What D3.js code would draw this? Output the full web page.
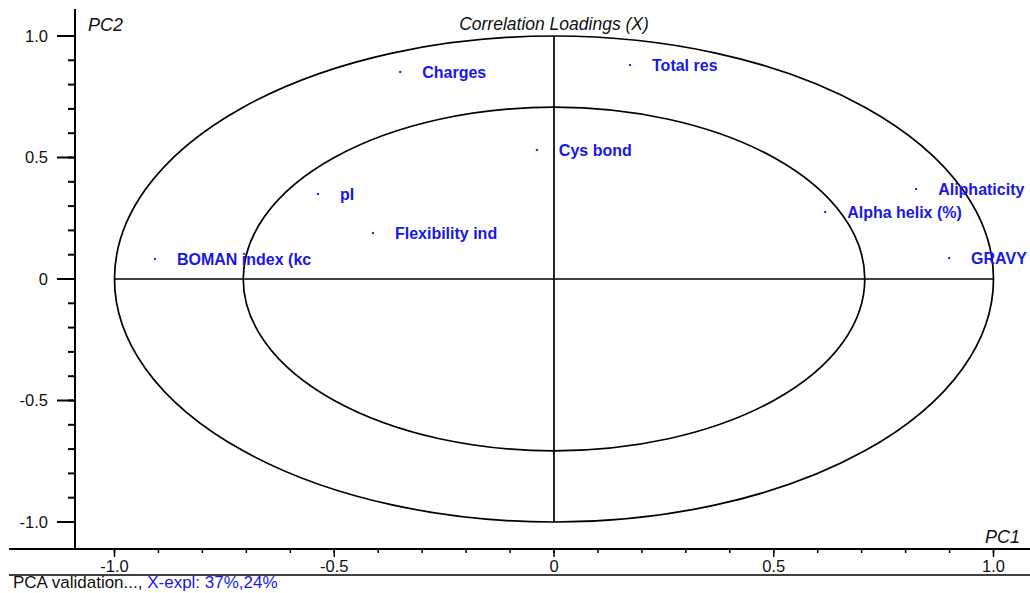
<!DOCTYPE html>
<html>
<head>
<meta charset="utf-8">
<script src="https://cdn.jsdelivr.net/npm/d3@7"></script>
<style>
  html, body { margin: 0; padding: 0; background: #fff; }
  svg { display: block; font-family: "Liberation Sans", Arial, sans-serif; }
</style>
</head>
<body>
<svg id="chart" width="1030" height="593"></svg>
<script>
// Correlation loadings of the X variables on PC1 / PC2
const variables = ["Charges", "Total res", "Cys bond", "pI", "Flexibility ind",
                   "BOMAN index (kc", "Aliphaticity", "Alpha helix (%)", "GRAVY"];
const pc1 = [-0.350, 0.173, -0.039, -0.537, -0.412, -0.908, 0.824, 0.617, 0.899];
const pc2 = [0.852, 0.881, 0.531, 0.350, 0.189, 0.082, 0.370, 0.276, 0.086];

const majorTicks = [-1.0, -0.5, 0, 0.5, 1.0];
const majorLabels = ["-1.0", "-0.5", "0", "0.5", "1.0"];
const minorTicks = d3.range(-10, 11).map(i => i / 10);

const titleText = "Correlation Loadings (X)";
const footerLead = "PCA validation..., ";
const footerExpl = "X-expl: 37%,24%";

const blue = "#1818e6";
const svg = d3.select("#chart");

const x = d3.scaleLinear().domain([-1, 1]).range([114.5, 993.5]);
const y = d3.scaleLinear().domain([-1, 1]).range([522, 36]);

const axisX = 549, axisY = 75;

// correlation circles (r = 1 and r = sqrt(0.5))
[1, Math.SQRT1_2].forEach(r => {
  svg.append("ellipse")
    .attr("cx", x(0)).attr("cy", y(0))
    .attr("rx", x(r) - x(0)).attr("ry", y(0) - y(r))
    .attr("fill", "none").attr("stroke", "#000").attr("stroke-width", 1.7);
});

// cross lines through origin
svg.append("line").attr("x1", x(-1)).attr("x2", x(1)).attr("y1", y(0)).attr("y2", y(0))
  .attr("stroke", "#000").attr("stroke-width", 1.7);
svg.append("line").attr("x1", x(0)).attr("x2", x(0)).attr("y1", y(1)).attr("y2", y(-1))
  .attr("stroke", "#000").attr("stroke-width", 1.7);

// y axis
const yAxis = svg.append("g");
yAxis.append("line").attr("x1", axisY).attr("x2", axisY).attr("y1", 9).attr("y2", axisX)
  .attr("stroke", "#000").attr("stroke-width", 2);
yAxis.selectAll("line.minor").data(minorTicks).join("line").attr("class", "minor")
  .attr("x1", axisY - 7).attr("x2", axisY).attr("y1", d => y(d)).attr("y2", d => y(d))
  .attr("stroke", "#000").attr("stroke-width", 2);
yAxis.selectAll("line.major").data(majorTicks).join("line").attr("class", "major")
  .attr("x1", axisY - 18).attr("x2", axisY).attr("y1", d => y(d)).attr("y2", d => y(d))
  .attr("stroke", "#000").attr("stroke-width", 2);
yAxis.selectAll("text").data(majorTicks).join("text")
  .attr("x", 48).attr("y", d => y(d)).attr("dy", "0.36em")
  .attr("text-anchor", "end").attr("font-size", 16.5).attr("fill", "#111")
  .text((d, i) => majorLabels[i]);

// x axis
const xAxis = svg.append("g");
xAxis.append("line").attr("x1", 9).attr("x2", 1030).attr("y1", axisX).attr("y2", axisX)
  .attr("stroke", "#000").attr("stroke-width", 2);
xAxis.selectAll("line.minor").data(minorTicks).join("line").attr("class", "minor")
  .attr("x1", d => x(d)).attr("x2", d => x(d)).attr("y1", axisX).attr("y2", axisX + 4)
  .attr("stroke", "#000").attr("stroke-width", 1.5);
xAxis.selectAll("line.major").data(majorTicks).join("line").attr("class", "major")
  .attr("x1", d => x(d)).attr("x2", d => x(d)).attr("y1", axisX).attr("y2", axisX + 8)
  .attr("stroke", "#000").attr("stroke-width", 1.5);
xAxis.selectAll("text").data(majorTicks).join("text")
  .attr("x", d => x(d)).attr("y", 572)
  .attr("text-anchor", "middle").attr("font-size", 16.5).attr("fill", "#111")
  .text((d, i) => majorLabels[i]);

// footer rule and status text
svg.append("line").attr("x1", 9).attr("x2", 1030).attr("y1", 575).attr("y2", 575)
  .attr("stroke", "#000").attr("stroke-width", 1.7);
const footer = svg.append("text").attr("x", 13).attr("y", 588).attr("font-size", 17);
footer.append("tspan").attr("fill", "#111").text(footerLead);
footer.append("tspan").attr("fill", blue).text(footerExpl);

// axis names and title
svg.append("text").attr("x", 88).attr("y", 31).attr("font-size", 18)
  .attr("font-style", "italic").attr("fill", "#111").text("PC2");
svg.append("text").attr("x", 1020).attr("y", 543).attr("font-size", 18)
  .attr("text-anchor", "end").attr("font-style", "italic").attr("fill", "#111").text("PC1");
svg.append("text").attr("x", x(0)).attr("y", 30).attr("font-size", 17.5)
  .attr("text-anchor", "middle").attr("font-style", "italic").attr("fill", "#111").text(titleText);

// loading points and their labels
const pts = svg.append("g").selectAll("g").data(variables).join("g")
  .attr("transform", (d, i) => `translate(${x(pc1[i])},${y(pc2[i])})`);
pts.append("rect").attr("x", -1).attr("y", -1).attr("width", 2).attr("height", 2).attr("fill", blue);
pts.append("text").attr("x", 22).attr("dy", "0.36em")
  .attr("font-size", 16).attr("font-weight", "bold").attr("fill", blue).text(d => d);
</script>
</body>
</html>
